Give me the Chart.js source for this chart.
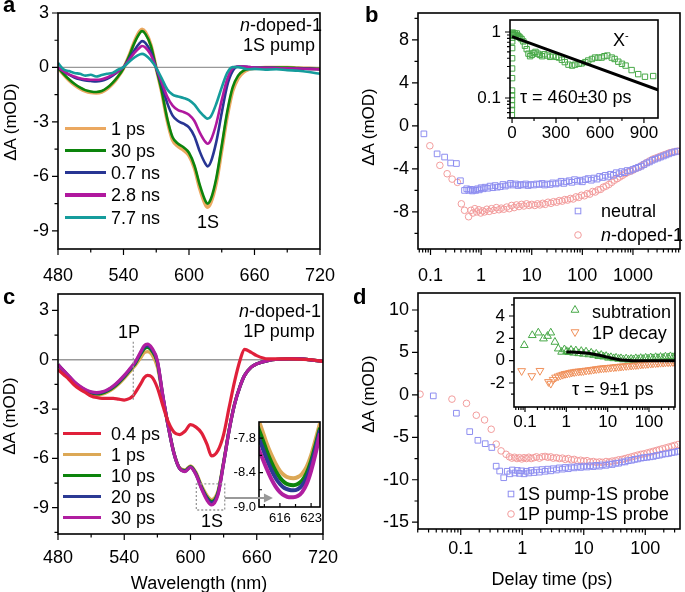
<!DOCTYPE html>
<html>
<head>
<meta charset="utf-8">
<script src="https://cdn.jsdelivr.net/npm/chart.js@4.4.0/dist/chart.umd.min.js"></script>
<style>
  body { margin: 0; background: #fff; }
  #wrap { position: relative; width: 685px; height: 592px; overflow: hidden; font-family: "Liberation Sans", Arial, sans-serif; color: #000; }
  canvas { position: absolute; }
  .t { position: absolute; white-space: nowrap; line-height: 1; }
  .rot { position: absolute; white-space: nowrap; line-height: 1; font-size: 17px; transform: translate(-50%, -50%) rotate(-90deg); }
  .sw { position: absolute; height: 3.2px; }
  svg.mk { position: absolute; overflow: visible; }
</style>
</head>
<body>
<div id="wrap">
  <canvas id="insetB"></canvas>
  <canvas id="insetC"></canvas>
  <canvas id="insetD"></canvas>
  <canvas id="chartA"></canvas>
  <canvas id="chartB"></canvas>
  <canvas id="chartC"></canvas>
  <canvas id="chartD"></canvas>
</div>
<script>
const FONT = '"Liberation Sans", Arial, sans-serif';

// ---- panel a: spectra after 1S pump (mOD) ----
const wlA = [480, 485, 490, 495, 500, 505, 510, 515, 520, 525, 530, 535, 540, 545, 550, 555, 557, 560, 565, 570,
  575, 580, 585, 590, 595, 600, 605, 610, 615, 617, 620, 625, 630, 635, 640, 645, 650, 655, 660, 670, 680, 690, 700, 710, 720];
const a1ps = [0.0, -0.38, -0.7, -0.95, -1.15, -1.3, -1.38, -1.4, -1.35, -1.17, -0.9, -0.52, -0.05, 0.63, 1.42, 2.0, 2.1, 1.95, 1.25, -0.05,
  -1.35, -2.9, -4.0, -4.35, -4.55, -4.85, -5.55, -6.7, -7.55, -7.7, -7.45, -6.35, -4.55, -2.7, -1.3, -0.6, -0.25, -0.1, -0.05, 0, 0, 0, -0.03, -0.05, -0.08];
const a30ps = [0.0, -0.35, -0.65, -0.9, -1.1, -1.25, -1.32, -1.35, -1.3, -1.12, -0.85, -0.5, -0.05, 0.6, 1.35, 1.9, 2.0, 1.85, 1.2, -0.05,
  -1.3, -2.8, -3.85, -4.2, -4.4, -4.7, -5.4, -6.5, -7.35, -7.5, -7.25, -6.1, -4.3, -2.45, -1.1, -0.45, -0.17, -0.07, -0.03, 0, 0, 0, -0.03, -0.05, -0.08];
const a07ns = [0.0, -0.2, -0.4, -0.55, -0.65, -0.72, -0.75, -0.77, -0.73, -0.62, -0.45, -0.22, 0.02, 0.45, 0.95, 1.35, 1.45, 1.35, 0.85, -0.05,
  -0.95, -1.95, -2.65, -2.95, -3.1, -3.3, -3.8, -4.65, -5.3, -5.45, -5.2, -4.1, -2.5, -1.0, -0.2, 0.05, 0.05, 0.02, 0, -0.02, -0.03, -0.05, -0.06, -0.08, -0.1];
const a28ns = [0.0, -0.2, -0.38, -0.5, -0.6, -0.65, -0.68, -0.68, -0.65, -0.55, -0.4, -0.2, 0.02, 0.4, 0.8, 1.1, 1.18, 1.1, 0.7, -0.03,
  -0.8, -1.6, -2.1, -2.35, -2.45, -2.6, -2.95, -3.6, -4.1, -4.2, -4.0, -3.1, -1.8, -0.65, -0.05, 0.05, 0.05, 0.02, 0, -0.02, -0.03, -0.05, -0.06, -0.08, -0.1];
const a77ns = [0.25, -0.1, -0.2, -0.3, -0.35, -0.45, -0.4, -0.5, -0.42, -0.35, -0.3, -0.12, 0.02, 0.3, 0.55, 0.72, 0.75, 0.68, 0.4, -0.02,
  -0.6, -1.2, -1.5, -1.6, -1.68, -1.8, -2.05, -2.45, -2.75, -2.82, -2.7, -2.0, -1.1, -0.3, 0.02, 0.02, -0.05, -0.1, -0.08, -0.12, -0.1, -0.15, -0.18, -0.25, -0.35];

// ---- panel c: spectra after 1P pump ----
const wlC = [480, 485, 490, 495, 500, 505, 510, 515, 520, 525, 530, 535, 540, 545, 548, 550, 555, 558, 561, 565,
  570, 575, 580, 585, 590, 595, 600, 605, 610, 615, 619, 625, 630, 635, 640, 645, 649, 655, 660, 670, 680, 690, 700, 710, 720];
const c04ps = [-0.6, -0.9, -1.2, -1.55, -1.8, -2.0, -2.2, -2.3, -2.35, -2.35, -2.35, -2.4, -2.45, -2.35, -2.2, -2.0, -1.45, -1.1, -0.95, -1.05,
  -1.7, -2.8, -3.8, -4.4, -4.55, -4.35, -3.95, -4.1, -4.45, -5.15, -5.85, -5.5, -4.55, -2.9, -1.3, 0.0, 0.63, 0.45, 0.25, 0.05, 0.05, 0.05, 0.03, 0, -0.1];
const c1ps = [-0.32, -0.7, -1.08, -1.44, -1.72, -1.94, -2.08, -2.15, -2.1, -1.96, -1.76, -1.48, -1.14, -0.75, -0.5, -0.35, 0.12, 0.42, 0.5, 0.32,
  -0.45, -2.3, -4.1, -5.65, -6.55, -6.7, -6.45, -6.85, -7.65, -8.25, -8.5, -7.95, -6.2, -4.25, -2.65, -1.58, -0.95, -0.45, -0.25, -0.05, 0.03, 0.05, 0.05, -0.02, -0.1];
const c10ps = [-0.3, -0.67, -1.04, -1.4, -1.68, -1.89, -2.02, -2.08, -2.03, -1.89, -1.68, -1.4, -1.05, -0.65, -0.4, -0.23, 0.35, 0.65, 0.75, 0.54,
  -0.18, -2.25, -4.1, -5.68, -6.6, -6.75, -6.5, -6.93, -7.75, -8.38, -8.62, -8.05, -6.25, -4.28, -2.68, -1.6, -0.95, -0.45, -0.25, -0.05, 0.03, 0.05, 0.05, -0.02, -0.1];
const c20ps = [-0.3, -0.66, -1.02, -1.38, -1.65, -1.85, -1.98, -2.03, -1.98, -1.85, -1.63, -1.34, -1.0, -0.6, -0.35, -0.17, 0.43, 0.76, 0.86, 0.64,
  -0.1, -2.22, -4.1, -5.69, -6.6, -6.78, -6.53, -6.97, -7.8, -8.45, -8.71, -8.12, -6.28, -4.29, -2.69, -1.6, -0.95, -0.45, -0.25, -0.05, 0.03, 0.05, 0.05, -0.02, -0.1];
const c30ps = [-0.3, -0.65, -1.0, -1.35, -1.62, -1.82, -1.95, -2.0, -1.95, -1.82, -1.6, -1.3, -0.95, -0.55, -0.3, -0.12, 0.5, 0.85, 0.95, 0.72,
  -0.05, -2.2, -4.1, -5.7, -6.6, -6.8, -6.55, -7.0, -7.85, -8.55, -8.83, -8.2, -6.3, -4.3, -2.7, -1.6, -0.95, -0.45, -0.25, -0.05, 0.03, 0.05, 0.05, -0.02, -0.1];

// ---- inset of c: zoom on the 1S bleach minimum ----
const wlZoom = [611, 612, 613, 614, 615, 616, 617, 618, 619, 620, 621, 622, 623, 624, 625];
const z1ps = [-7.45, -7.66, -7.89, -8.08, -8.24, -8.37, -8.45, -8.49, -8.5, -8.48, -8.42, -8.3, -8.1, -7.83, -7.54];
const z10ps = [-7.6, -7.8, -8.02, -8.21, -8.37, -8.49, -8.57, -8.61, -8.62, -8.6, -8.54, -8.41, -8.2, -7.92, -7.62];
const z20ps = [-7.75, -7.95, -8.16, -8.34, -8.49, -8.6, -8.67, -8.7, -8.71, -8.69, -8.62, -8.49, -8.27, -7.98, -7.66];
const z30ps = [-7.95, -8.14, -8.33, -8.5, -8.64, -8.74, -8.8, -8.83, -8.83, -8.81, -8.74, -8.6, -8.37, -8.07, -7.72];

// ---- panel b: 1S bleach kinetics ----
const neutralDelay = [0.074, 0.135, 0.19, 0.25, 0.325, 0.39, 0.47, 0.52, 0.57, 0.62, 0.67, 0.72, 0.78, 0.85, 0.92, 1.0, 1.1, 1.2, 1.35, 1.5,
  1.7, 1.9, 2.1, 2.4, 2.7, 3.0, 3.4, 3.8, 4.3, 4.8, 5.4, 6.0, 6.8, 7.6, 8.5, 9.5, 11, 12.5, 14, 16,
  18, 20, 23, 26, 30, 34, 38, 43, 48, 55, 62, 70, 80, 90, 100, 115, 130, 150, 170, 195,
  220, 250, 285, 320, 360, 410, 470, 530, 600, 680, 770, 870, 1000, 1130, 1280, 1450, 1650, 1870, 2120, 2400,
  2700, 3100, 3500, 4000, 4500, 5100, 5800, 6600, 7500];
const neutralDA = [-0.74, -2.6, -2.9, -3.45, -3.5, -5.1, -6.0, -5.85, -6.0, -5.9, -6.05, -5.95, -6.0, -5.85, -5.95, -5.75, -5.85, -5.7, -5.8, -5.6,
  -5.75, -5.55, -5.7, -5.65, -5.45, -5.6, -5.5, -5.35, -5.5, -5.4, -5.55, -5.45, -5.5, -5.4, -5.55, -5.45, -5.5, -5.4, -5.45, -5.35,
  -5.5, -5.4, -5.45, -5.3, -5.4, -5.3, -5.15, -5.35, -5.2, -5.1, -5.25, -5.0, -5.15, -5.05, -5.2, -5.0, -4.9, -5.05, -4.85, -4.95,
  -4.7, -4.8, -4.6, -4.75, -4.5, -4.6, -4.35, -4.45, -4.25, -4.35, -4.15, -4.2, -4.05, -3.95, -3.85, -3.75, -3.6, -3.45, -3.35, -3.2,
  -3.1, -3.0, -2.9, -2.8, -2.7, -2.6, -2.5, -2.42, -2.35];
const dopedDelay = [0.097, 0.153, 0.213, 0.267, 0.34, 0.407, 0.47, 0.566, 0.63, 0.69, 0.75, 0.82, 0.9, 0.98, 1.07, 1.17, 1.3, 1.45, 1.6, 1.8,
  2.0, 2.25, 2.5, 2.8, 3.2, 3.6, 4.0, 4.5, 5.0, 5.6, 6.3, 7.0, 7.9, 8.9, 10, 11.5, 13, 14.5, 16.5, 18.5,
  21, 24, 27, 31, 35, 40, 45, 51, 58, 66, 75, 85, 96, 110, 125, 140, 160, 180, 205, 230,
  260, 295, 335, 380, 430, 490, 550, 620, 700, 800, 900, 1020, 1150, 1300, 1480, 1680, 1900, 2150, 2450, 2800,
  3200, 3600, 4100, 4700, 5300, 6000, 6800, 7700];
const dopedDA = [-1.85, -3.67, -4.45, -4.95, -5.25, -7.25, -7.85, -8.45, -7.85, -8.1, -7.7, -8.0, -7.8, -8.1, -7.9, -8.0, -7.75, -7.95, -7.7, -7.85,
  -7.6, -7.8, -7.65, -7.75, -7.55, -7.7, -7.4, -7.6, -7.35, -7.5, -7.3, -7.45, -7.25, -7.4, -7.3, -7.4, -7.25, -7.35, -7.2, -7.3,
  -7.1, -7.2, -7.05, -7.1, -6.95, -7.0, -6.85, -6.9, -6.75, -6.8, -6.6, -6.65, -6.45, -6.5, -6.3, -6.35, -6.1, -6.15, -5.95, -5.9,
  -5.7, -5.6, -5.45, -5.25, -5.05, -4.9, -4.75, -4.6, -4.45, -4.3, -4.2, -4.1, -3.95, -3.85, -3.7, -3.55, -3.4, -3.25, -3.1, -3.0,
  -2.9, -2.8, -2.7, -2.6, -2.5, -2.45, -2.4, -2.35];

// ---- inset of b: normalised trion signal (X-) and single-exponential fit ----
const trionDelay = [-1, -0.8, -0.6, -0.4, -0.2, 0, 0.2, 0.4, 0.6, 0.8, 1, 1.5, 2, 3, 5, 8, 12, 18, 25, 32,
  40, 48, 55, 65, 77, 88, 100, 112, 123, 135, 147, 160, 175, 190, 205, 220, 240, 260, 280, 300,
  320, 340, 360, 385, 410, 430, 455, 475, 500, 520, 545, 566, 590, 611, 630, 650, 680, 700, 725, 750,
  775, 816, 861, 907, 963];
const trionNorm = [0.055, 0.066, 0.078, 0.093, 0.11, 0.13, 0.2, 0.28, 0.4, 0.57, 0.72, 0.82, 0.9, 0.95, 0.98, 0.92, 0.88, 0.95, 0.9, 0.95,
  0.88, 0.85, 0.82, 0.78, 0.72, 0.62, 0.55, 0.47, 0.43, 0.45, 0.48, 0.5, 0.47, 0.45, 0.43, 0.46, 0.44, 0.42, 0.44, 0.42,
  0.41, 0.38, 0.35, 0.32, 0.31, 0.32, 0.33, 0.335, 0.35, 0.37, 0.39, 0.41, 0.41, 0.41, 0.43, 0.44, 0.41, 0.39, 0.355, 0.33,
  0.31, 0.265, 0.23, 0.21, 0.215];
const trionFitT = [0, 1000];
const trionFitV = [0.85, 0.132];

// ---- panel d: 1S bleach kinetics, 1S vs 1P pump ----
const s1Delay = [0.0358, 0.085, 0.14, 0.19, 0.25, 0.32, 0.377, 0.43, 0.5, 0.57, 0.63, 0.69, 0.76, 0.83, 0.9, 0.98, 1.07, 1.17, 1.28, 1.4,
  1.55, 1.7, 1.9, 2.1, 2.35, 2.6, 2.9, 3.2, 3.6, 4.0, 4.5, 5.0, 5.6, 6.3, 7.0, 7.9, 8.9, 10, 11.3, 12.7,
  14.3, 16, 18, 20, 23, 26, 29, 33, 37, 42, 47, 53, 60, 67, 75, 85, 95, 107, 120, 135,
  152, 170, 190, 215, 240, 270, 300, 340];
const s1DA = [-0.12, -2.16, -4.33, -5.35, -5.75, -6.2, -8.4, -8.97, -9.76, -9.0, -9.3, -8.85, -9.2, -8.9, -9.25, -8.95, -9.3, -9.0, -9.2, -8.9,
  -9.15, -8.85, -9.1, -8.8, -9.0, -8.75, -8.95, -8.7, -8.85, -8.6, -8.75, -8.55, -8.7, -8.5, -8.6, -8.45, -8.55, -8.4, -8.5, -8.35,
  -8.45, -8.3, -8.4, -8.25, -8.3, -8.15, -8.2, -8.05, -8.05, -7.9, -7.9, -7.75, -7.7, -7.6, -7.55, -7.45, -7.4, -7.35, -7.3, -7.25,
  -7.15, -7.1, -7.0, -6.95, -6.9, -6.8, -6.75, -6.65];
const p1Delay = [0.0218, 0.072, 0.124, 0.179, 0.244, 0.313, 0.377, 0.453, 0.546, 0.62, 0.68, 0.75, 0.82, 0.9, 0.98, 1.07, 1.17, 1.28, 1.4, 1.55,
  1.7, 1.9, 2.1, 2.35, 2.6, 2.9, 3.2, 3.6, 4.0, 4.5, 5.0, 5.6, 6.3, 7.0, 7.9, 8.9, 10, 11.3, 12.7, 14.3,
  16, 18, 20, 23, 26, 29, 33, 37, 42, 47, 53, 60, 67, 75, 85, 95, 107, 120, 135, 152,
  170, 190, 215, 240, 270, 300, 340];
const p1DA = [0.08, -0.5, -1.0, -2.4, -2.95, -4.05, -5.8, -6.6, -7.0, -7.3, -7.45, -7.35, -7.5, -7.4, -7.55, -7.4, -7.5, -7.35, -7.5, -7.4,
  -7.3, -7.45, -7.3, -7.25, -7.35, -7.3, -7.45, -7.4, -7.5, -7.45, -7.6, -7.5, -7.65, -7.6, -7.75, -7.7, -7.8, -7.75, -7.9, -7.85,
  -7.95, -7.9, -7.95, -7.85, -7.9, -7.8, -7.75, -7.65, -7.6, -7.5, -7.4, -7.3, -7.2, -7.1, -7.0, -6.95, -6.85, -6.75, -6.65, -6.55,
  -6.45, -6.35, -6.25, -6.15, -6.05, -5.95, -5.85];

// ---- inset of d: subtraction, 1P decay and fit ----
const subDelay = [0.096, 0.15, 0.21, 0.28, 0.35, 0.42, 0.53, 0.64, 0.77, 0.9, 1.02, 1.15, 1.3, 1.5, 1.7, 2.0, 2.3, 2.6, 3.0, 3.5,
  4.0, 4.6, 5.3, 6.1, 7.0, 8.0, 9.2, 10.5, 12, 14, 16, 18.5, 21, 24, 28, 32, 37, 42, 48, 55,
  63, 72, 83, 95, 110, 125, 145, 165, 190, 220, 250, 290, 330, 380, 430];
const subDA = [1.38, 2.27, 2.5, 1.97, 2.2, 2.5, 1.67, 1.07, 0.78, 1.0, 0.84, 0.75, 0.95, 0.7, 0.9, 0.65, 0.85, 0.6, 0.8, 0.55,
  0.7, 0.5, 0.6, 0.4, 0.5, 0.35, 0.4, 0.25, 0.3, 0.2, 0.25, 0.15, 0.2, 0.1, 0.18, 0.08, 0.15, 0.1, 0.2, 0.12,
  0.22, 0.15, 0.25, 0.18, 0.28, 0.2, 0.3, 0.22, 0.32, 0.25, 0.35, 0.28, 0.38, 0.3, 0.35];
const pDecayDelay = [0.083, 0.146, 0.23, 0.37, 0.42, 0.48, 0.55, 0.63, 0.72, 0.82, 0.93, 1.05, 1.2, 1.35, 1.55, 1.75, 2.0, 2.3, 2.6, 3.0,
  3.5, 4.0, 4.6, 5.3, 6.1, 7.0, 8.0, 9.2, 10.5, 12, 14, 16, 18.5, 21, 24, 28, 32, 37, 42, 48,
  55, 63, 72, 83, 95, 110, 125, 145, 165, 190, 220, 250, 290, 330, 380, 430];
const pDecayDA = [-0.92, -1.37, -0.9, -1.9, -2.05, -1.7, -1.5, -1.4, -1.32, -1.25, -1.18, -1.15, -1.1, -1.05, -1.02, -0.98, -0.96, -0.94, -0.92, -0.88,
  -0.85, -0.82, -0.79, -0.75, -0.72, -0.69, -0.67, -0.65, -0.63, -0.61, -0.59, -0.56, -0.54, -0.52, -0.5, -0.47, -0.45, -0.43, -0.41, -0.39,
  -0.37, -0.34, -0.32, -0.3, -0.28, -0.26, -0.24, -0.22, -0.2, -0.18, -0.17, -0.15, -0.14, -0.13, -0.12, -0.1];
const fitDT = [1, 2, 3, 5, 8, 12, 18, 27, 40, 60, 430];
const fitDV = [0.78, 0.74, 0.68, 0.55, 0.4, 0.24, 0.1, 0.03, 0.0, 0, 0];

// ---- tick labels ----
const wlTicks = [480, 540, 600, 660, 720];
const wlMinor = [510, 570, 630, 690];
const spYTicks = [3, 0, -3, -6, -9];
const spYMinor = [1.5, -1.5, -4.5, -7.5, -10.5];
const bYTicks = [8, 4, 0, -4, -8];
const bYMinor = [10, 6, 2, -2, -6, -10];
const bXTicks = [0.1, 1, 10, 100, 1000];
const bInXTicks = [0, 300, 600, 900];
const bInXMinor = [150, 450, 750];
const bInYTicks = [0.1, 1];
const zoomXTicks = [616, 623];
const zoomXMinor = [612.5, 619.5];
const zoomYTicks = [-7.8, -8.4, -9.0];
const zoomYMinor = [-8.1, -8.7];
const dYTicks = [10, 5, 0, -5, -10, -15];
const dYMinor = [7.5, 2.5, -2.5, -7.5, -12.5];
const dXTicks = [0.1, 1, 10, 100];
const dInYTicks = [4, 2, 0, -2];
const dInYMinor = [5, 3, 1, -1, -3];

// minor tick positions of a log axis (2..9 of every decade)
function logMinors(lo, hi) {
  const out = [];
  for (let e = lo; e <= hi; e++) for (let k = 2; k <= 9; k++) out.push(k * Math.pow(10, e));
  return out;
}

function xy(xs, ys) { return xs.map((x, i) => ({ x: x, y: ys[i] })); }

function lineSet(xs, ys, color, width) {
  return { data: xy(xs, ys), borderColor: color, borderWidth: width, showLine: true, pointRadius: 0,
    cubicInterpolationMode: 'monotone', fill: false };
}

function dotSet(xs, ys, color, style, r, rot) {
  return { data: xy(xs, ys), borderColor: color, backgroundColor: 'rgba(0,0,0,0)', borderWidth: 1,
    pointStyle: style, pointRadius: r, rotation: rot || 0, showLine: false };
}

// frame, hand-drawn ticks, zero line and the dotted marks of panel c
const decoPlugin = {
  id: 'deco',
  beforeDraw(chart, args, o) {
    if (!o.fill) return;
    const a = chart.chartArea, c = chart.ctx;
    c.save();
    c.fillStyle = '#fff';
    c.fillRect(a.left, a.top, a.right - a.left, a.bottom - a.top);
    c.restore();
  },
  beforeDatasetsDraw(chart, args, o) {
    if (!o.zero) return;
    const a = chart.chartArea, c = chart.ctx;
    const y0 = chart.scales.y.getPixelForValue(0);
    c.save();
    c.strokeStyle = '#999';
    c.lineWidth = 1.3;
    c.beginPath(); c.moveTo(a.left, y0); c.lineTo(a.right, y0); c.stroke();
    c.restore();
  },
  afterDraw(chart, args, o) {
    const a = chart.chartArea, c = chart.ctx;
    const sx = chart.scales.x, sy = chart.scales.y;
    const dir = o.dir || 1;
    c.save();
    c.strokeStyle = '#000';
    c.lineWidth = 1.2;
    c.beginPath();
    const xt = (vals, len) => vals.forEach(v => {
      const p = sx.getPixelForValue(v);
      if (p < a.left - 0.5 || p > a.right + 0.5) return;
      c.moveTo(p, a.bottom); c.lineTo(p, a.bottom + dir * len);
    });
    const yt = (vals, len) => vals.forEach(v => {
      const p = sy.getPixelForValue(v);
      if (p < a.top - 0.5 || p > a.bottom + 0.5) return;
      c.moveTo(a.left, p); c.lineTo(a.left - dir * len, p);
    });
    xt(o.xMajor || [], o.maj || 6);
    xt(o.xMinor || [], o.min || 3.5);
    yt(o.yMajor || [], o.maj || 6);
    yt(o.yMinor || [], o.min || 3.5);
    c.stroke();
    c.lineWidth = 1.6;
    c.strokeRect(a.left, a.top, a.right - a.left, a.bottom - a.top);

    c.strokeStyle = '#999';
    c.lineWidth = 1.3;
    c.setLineDash([2, 2]);
    (o.dotted || []).forEach(d => {
      c.beginPath();
      c.moveTo(sx.getPixelForValue(d[0]), sy.getPixelForValue(d[1]));
      c.lineTo(sx.getPixelForValue(d[2]), sy.getPixelForValue(d[3]));
      c.stroke();
    });
    (o.dottedBox || []).forEach(d => {
      const x1 = sx.getPixelForValue(d[0]), y1 = sy.getPixelForValue(d[1]);
      const x2 = sx.getPixelForValue(d[2]), y2 = sy.getPixelForValue(d[3]);
      c.strokeRect(x1, y1, x2 - x1, y2 - y1);
    });
    c.setLineDash([]);
    if (o.arrow) {
      const d = o.arrow;
      const x1 = sx.getPixelForValue(d[0]), x2 = sx.getPixelForValue(d[2]);
      const y = sy.getPixelForValue(d[1]);
      c.strokeStyle = '#999';
      c.fillStyle = '#999';
      c.lineWidth = 2;
      c.beginPath(); c.moveTo(x1, y); c.lineTo(x2 - 6, y); c.stroke();
      c.beginPath(); c.moveTo(x2, y); c.lineTo(x2 - 9, y - 4.5); c.lineTo(x2 - 9, y + 4.5); c.closePath(); c.fill();
    }
    c.restore();
  }
};

function axis(o) {
  return {
    type: o.type || 'linear',
    min: o.min, max: o.max, bounds: 'data',
    grid: { display: false, drawTicks: false, tickLength: 0 },
    border: { display: false },
    ticks: {
      autoSkip: false, maxRotation: 0, minRotation: 0, padding: o.pad, color: '#000',
      font: { family: FONT, size: o.size },
      callback: o.fmt || (v => String(v))
    },
    afterBuildTicks: s => { s.ticks = o.ticks.map(v => ({ value: v })); },
    afterFit: s => {
      if (o.w !== undefined) s.width = o.w;
      if (o.h !== undefined) s.height = o.h;
    }
  };
}

// box = chart area [left, top, right, bottom] in page pixels
function makeChart(id, box, m, xo, yo, datasets, deco) {
  const [L, T, R, B] = box;
  const cv = document.getElementById(id);
  cv.width = m.wy + (R - L) + m.pr;
  cv.height = m.pt + (B - T) + m.hx;
  cv.style.left = (L - m.wy) + 'px';
  cv.style.top = (T - m.pt) + 'px';
  xo.h = m.hx;
  yo.w = m.wy;
  return new Chart(cv, {
    type: 'scatter',
    data: { datasets: datasets },
    options: {
      responsive: false, animation: false, events: [],
      layout: { padding: { left: 0, top: m.pt, right: m.pr, bottom: 0 } },
      plugins: { legend: { display: false }, tooltip: { enabled: false }, deco: deco },
      scales: { x: axis(xo), y: axis(yo) }
    },
    plugins: [decoPlugin]
  });
}

const col = {
  orange: '#EBA860', green: '#0C840C', navy: '#283593', magenta: '#B0189E', teal: '#159C9C',
  red: '#E0203A', gold: '#DCA856', cnavy: '#2B3A94', cmagenta: '#B01EA0',
  lblue: '#8E8EF0', lred: '#F29C9C', igreen: '#47A847', iorange: '#F0905A'
};

// panel a
makeChart('chartA', [58, 13, 323, 249], { wy: 58, pt: 24, pr: 28, hx: 41 },
  { min: 480, max: 720, ticks: wlTicks, size: 18, pad: 16 },
  { min: -10, max: 3, ticks: spYTicks, size: 18, pad: 9 },
  [lineSet(wlA, a77ns, col.teal, 2.6), lineSet(wlA, a28ns, col.magenta, 2.6), lineSet(wlA, a07ns, col.navy, 2.6),
   lineSet(wlA, a30ps, col.green, 2.6), lineSet(wlA, a1ps, col.orange, 3.6)],
  { xMajor: wlTicks, xMinor: wlMinor, yMajor: spYTicks, yMinor: spYMinor, zero: true });

// panel b inset (drawn under the main chart canvas)
makeChart('insetB', [510, 20, 658, 118], { wy: 45, pt: 22, pr: 14, hx: 30 },
  { min: -14, max: 996, ticks: bInXTicks, size: 17, pad: 5 },
  { type: 'logarithmic', min: 0.0498, max: 1.52, ticks: bInYTicks, size: 17, pad: 9 },
  [lineSet(trionFitT, trionFitV, '#000', 3), dotSet(trionDelay, trionNorm, col.igreen, 'rect', 3.8)],
  { fill: true, xMajor: bInXTicks, xMinor: bInXMinor, yMajor: bInYTicks, yMinor: logMinors(-2, 0), maj: 5, min: 3 });

// panel b
makeChart('chartB', [418, 13, 682, 249], { wy: 60, pt: 24, pr: 3, hx: 41 },
  { type: 'logarithmic', min: 0.0566, max: 8500, ticks: bXTicks, size: 18, pad: 16 },
  { min: -11.45, max: 10.5, ticks: bYTicks, size: 18, pad: 9 },
  [dotSet(neutralDelay, neutralDA, col.lblue, 'rect', 4), dotSet(dopedDelay, dopedDA, col.lred, 'circle', 3.3)],
  { xMajor: bXTicks, xMinor: logMinors(-2, 3), yMajor: bYTicks, yMinor: bYMinor });

// panel c inset
makeChart('insetC', [259, 422, 320, 507], { wy: 32, pt: 16, pr: 10, hx: 22 },
  { min: 611.3, max: 625, ticks: zoomXTicks, size: 13, pad: 4 },
  { min: -9.0, max: -7.52, ticks: zoomYTicks, size: 13, pad: 3, fmt: v => v.toFixed(1) },
  [lineSet(wlZoom, z30ps, col.cmagenta, 4), lineSet(wlZoom, z20ps, col.cnavy, 4),
   lineSet(wlZoom, z10ps, col.green, 4), lineSet(wlZoom, z1ps, col.gold, 4)],
  { fill: true, dir: -1, xMajor: zoomXTicks, xMinor: zoomXMinor, yMajor: zoomYTicks, yMinor: zoomYMinor, maj: 4, min: 3 });

// panel c
makeChart('chartC', [58, 294, 323, 534], { wy: 58, pt: 24, pr: 28, hx: 58 },
  { min: 480, max: 720, ticks: wlTicks, size: 18, pad: 13 },
  { min: -10.6, max: 4.0, ticks: spYTicks, size: 18, pad: 9 },
  [lineSet(wlC, c04ps, col.red, 3.2), lineSet(wlC, c30ps, col.cmagenta, 3.2), lineSet(wlC, c20ps, col.cnavy, 3.2),
   lineSet(wlC, c10ps, col.green, 3.2), lineSet(wlC, c1ps, col.gold, 3.2)],
  { xMajor: wlTicks, xMinor: wlMinor, yMajor: spYTicks, yMinor: spYMinor, zero: true,
    dotted: [[548.2, 1.1, 548.2, -2.55]], dottedBox: [[605.3, -7.55, 631, -9.14]], arrow: [631.2, -8.41, 674.7, -8.41] });

// panel d inset
makeChart('insetD', [514, 298, 675, 407], { wy: 30, pt: 22, pr: 9, hx: 30 },
  { type: 'logarithmic', min: 0.0542, max: 426, ticks: dXTicks, size: 17, pad: 5 },
  { min: -4.15, max: 5.61, ticks: dInYTicks, size: 17, pad: 9 },
  [lineSet(fitDT, fitDV, '#000', 3), dotSet(subDelay, subDA, col.igreen, 'triangle', 4.5),
   dotSet(pDecayDelay, pDecayDA, col.iorange, 'triangle', 4.5, 180)],
  { fill: true, xMajor: dXTicks, xMinor: logMinors(-2, 2), yMajor: dInYTicks, yMinor: dInYMinor, maj: 5, min: 3 });

// panel d
makeChart('chartD', [418, 293, 682, 529], { wy: 60, pt: 24, pr: 3, hx: 63 },
  { type: 'logarithmic', min: 0.0202, max: 367, ticks: dXTicks, size: 18, pad: 9 },
  { min: -15.8, max: 12.0, ticks: dYTicks, size: 18, pad: 9 },
  [dotSet(s1Delay, s1DA, col.lblue, 'rect', 4), dotSet(p1Delay, p1DA, col.lred, 'circle', 3.3)],
  { xMajor: dXTicks, xMinor: logMinors(-2, 2), yMajor: dYTicks, yMinor: dYMinor });

// ---- text, legends ----
const wrap = document.getElementById('wrap');

function txt(html, x, base, size, align, bold) {
  const d = document.createElement('div');
  d.className = 't';
  d.innerHTML = html;
  d.style.fontSize = size + 'px';
  if (bold) d.style.fontWeight = 'bold';
  d.style.left = x + 'px';
  d.style.top = (base - 0.8465 * size) + 'px';
  if (align === 'c') d.style.transform = 'translateX(-50%)';
  if (align === 'r') d.style.transform = 'translateX(-100%)';
  wrap.appendChild(d);
}

function ytitle(x, y) {
  const d = document.createElement('div');
  d.className = 'rot';
  d.textContent = 'ΔA (mOD)';
  d.style.left = x + 'px';
  d.style.top = y + 'px';
  wrap.appendChild(d);
}

function swatch(x1, x2, y, color) {
  const d = document.createElement('div');
  d.className = 'sw';
  d.style.left = x1 + 'px';
  d.style.width = (x2 - x1) + 'px';
  d.style.top = (y - 1.6) + 'px';
  d.style.background = color;
  wrap.appendChild(d);
}

function marker(kind, x, y, color) {
  const ns = 'http://www.w3.org/2000/svg';
  const s = document.createElementNS(ns, 'svg');
  s.setAttribute('class', 'mk');
  s.setAttribute('width', 12);
  s.setAttribute('height', 12);
  s.style.left = (x - 6) + 'px';
  s.style.top = (y - 6) + 'px';
  let el;
  if (kind === 'rect') {
    el = document.createElementNS(ns, 'rect');
    el.setAttribute('x', 3.2); el.setAttribute('y', 3.2); el.setAttribute('width', 5.6); el.setAttribute('height', 5.6);
  } else if (kind === 'circle') {
    el = document.createElementNS(ns, 'circle');
    el.setAttribute('cx', 6); el.setAttribute('cy', 6); el.setAttribute('r', 3.3);
  } else {
    el = document.createElementNS(ns, 'polygon');
    el.setAttribute('points', kind === 'tri' ? '6,1.5 9.9,8.25 2.1,8.25' : '6,10.5 9.9,3.75 2.1,3.75');
  }
  el.setAttribute('fill', 'none');
  el.setAttribute('stroke', color);
  el.setAttribute('stroke-width', 1);
  s.appendChild(el);
  wrap.appendChild(s);
}

// panel letters
txt('a', 3, 13, 22, 'l', true);
txt('b', 365, 23, 22, 'l', true);
txt('c', 3, 305, 22, 'l', true);
txt('d', 353, 305, 22, 'l', true);

// axis titles
ytitle(10, 122);
ytitle(368, 127);
ytitle(9, 416);
ytitle(368, 394);
txt('Wavelength (nm)', 199, 589, 18, 'c');
txt('Delay time (ps)', 552, 585, 18, 'c');

// panel a annotations and legend
txt('<i>n</i>-doped-1', 281, 31, 18, 'c');
txt('1S pump', 279, 51, 18, 'c');
txt('1S', 208, 228, 18, 'c');
const aLegend = [['1 ps', col.orange], ['30 ps', col.green], ['0.7 ns', col.navy], ['2.8 ns', col.magenta], ['7.7 ns', col.teal]];
const aRows = [128.7, 150.7, 172.7, 195, 217.3];
aLegend.forEach((e, i) => { swatch(65, 106, aRows[i], e[1]); txt(e[0], 111, aRows[i] + 6.5, 18, 'l'); });

// panel c annotations and legend
txt('<i>n</i>-doped-1', 280, 317, 18, 'c');
txt('1P pump', 279, 337, 18, 'c');
txt('1P', 129, 338, 18, 'c');
txt('1S', 212, 527, 18, 'c');
const cLegend = [['0.4 ps', col.red], ['1 ps', col.gold], ['10 ps', col.green], ['20 ps', col.cnavy], ['30 ps', col.cmagenta]];
const cRows = [433.3, 454.3, 475.7, 496.7, 517.7];
cLegend.forEach((e, i) => { swatch(63, 101, cRows[i], e[1]); txt(e[0], 111, cRows[i] + 6.5, 18, 'l'); });

// panel b legend and inset labels
marker('rect', 578, 211, col.lblue);
txt('neutral', 601, 217.5, 18, 'l');
marker('circle', 578, 235, col.lred);
txt('<i>n</i>-doped-1', 601, 241.5, 18, 'l');
txt('X<sup style="font-size:11px;vertical-align:7px;">-</sup>', 613, 45, 18, 'l');
txt('τ = 460±30 ps', 520, 103, 18, 'l');

// panel d legend and inset labels
marker('rect', 511, 494, col.lblue);
txt('1S pump-1S probe', 518, 500.5, 18, 'l');
marker('circle', 511, 514, col.lred);
txt('1P pump-1S probe', 518, 520.5, 18, 'l');
marker('tri', 575, 310, col.igreen);
txt('subtration', 592, 318, 18, 'l');
marker('dtri', 575, 332, col.iorange);
txt('1P decay', 592, 339, 18, 'l');
txt('τ = 9±1 ps', 572, 395, 18, 'l');
</script>
</body>
</html>
